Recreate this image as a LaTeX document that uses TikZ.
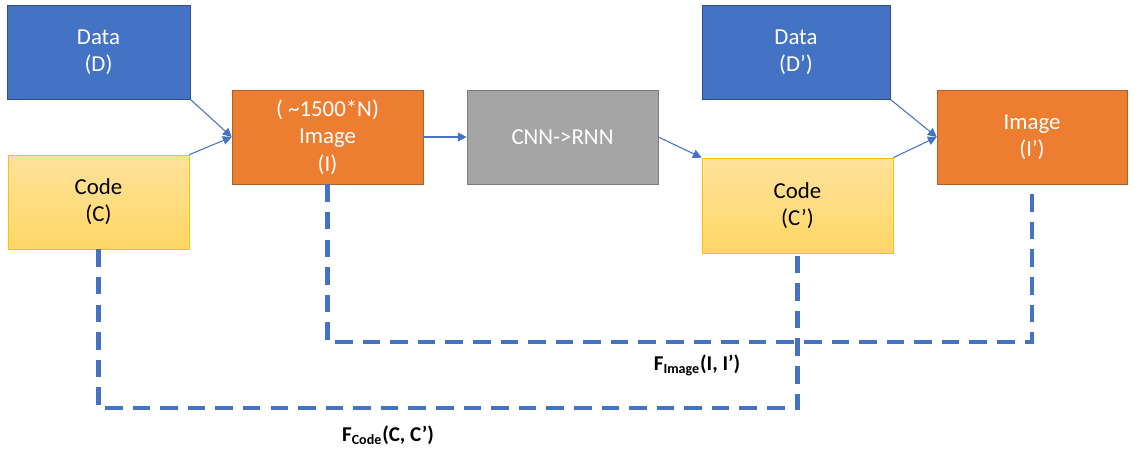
\documentclass[tikz,border=0pt]{standalone}
\usepackage{fontspec}
\setmainfont{Carlito}
\usetikzlibrary{arrows.meta}
\definecolor{dblue}{HTML}{4472C4}
\definecolor{dorange}{HTML}{ED7D31}
\definecolor{dgrey}{HTML}{A5A5A5}
\definecolor{dgold}{HTML}{FFC000}
\definecolor{codetop}{HTML}{FFE29C}
\definecolor{codebot}{HTML}{FFD766}
\tikzset{
    box/.style={rectangle, align=center, text=white, inner sep=0pt,
        minimum height=1.88cm, font=\fontsize{13}{15.5}\selectfont},
    databox/.style={box, fill=dblue, draw=dblue!70!black, minimum width=3.66cm},
    codebox/.style={box, text=black, draw=dgold, top color=codetop,
        bottom color=codebot, minimum width=3.62cm},
    imgbox/.style={box, fill=dorange, draw=dorange!75!black, minimum width=3.82cm},
    netbox/.style={box, fill=dgrey, draw=dgrey!75!black, minimum width=3.82cm},
    flow/.style={draw=dblue, line width=0.6pt, -{Triangle[width=5pt,length=5pt]}},
    loss/.style={draw=dblue, line width=2.3pt, dash pattern=on 10pt off 5.7pt},
    losslabel/.style={font=\fontsize{12}{14}\selectfont\bfseries}
}
\begin{document}
\begin{tikzpicture}[x=0.02cm, y=-0.02cm]
    \useasboundingbox (0,0) rectangle (1135,449);

    \node[databox] (data) at (98.5,52) {Data\\(D)};
    \node[codebox, minimum width=3.62cm] (code) at (98.5,202) {Code\\(C)};
    \node[imgbox] (image) at (327.5,137) {( \char`\~1500*N)\\Image\\(I)};
    \node[netbox] (cnn) at (562.5,137) {CNN->RNN};
    \node[databox, minimum width=3.76cm] (data2) at (796,52) {Data\\(D’)};
    \node[codebox, minimum width=3.82cm, minimum height=1.9cm] (code2) at (797.5,205.5) {Code\\(C’)};
    \node[imgbox, minimum width=3.8cm] (image2) at (1032,137) {Image\\(I’)};

    \draw[flow] (data.south east) -- (image.west);
    \draw[flow] (code.north east) -- (image.west);
    \draw[flow] (image.east) -- (cnn.west);
    \draw[flow] (cnn.east) -- (code2.north west);
    \draw[flow] (data2.south east) -- (image2.west);
    \draw[flow] (code2.north east) -- (image2.west);

    \draw[loss] (image.south) -- ++(0,158) -| (image2.south);
    \draw[loss] (code.south) -- ++(0,159) -| (code2.south);

    \node[losslabel] (fimage) at (697,365) {F\textsubscript{Image}(I, I’)};
    \node[losslabel] (fcode) at (388,435) {F\textsubscript{Code}(C, C’)};
\end{tikzpicture}
\end{document}
